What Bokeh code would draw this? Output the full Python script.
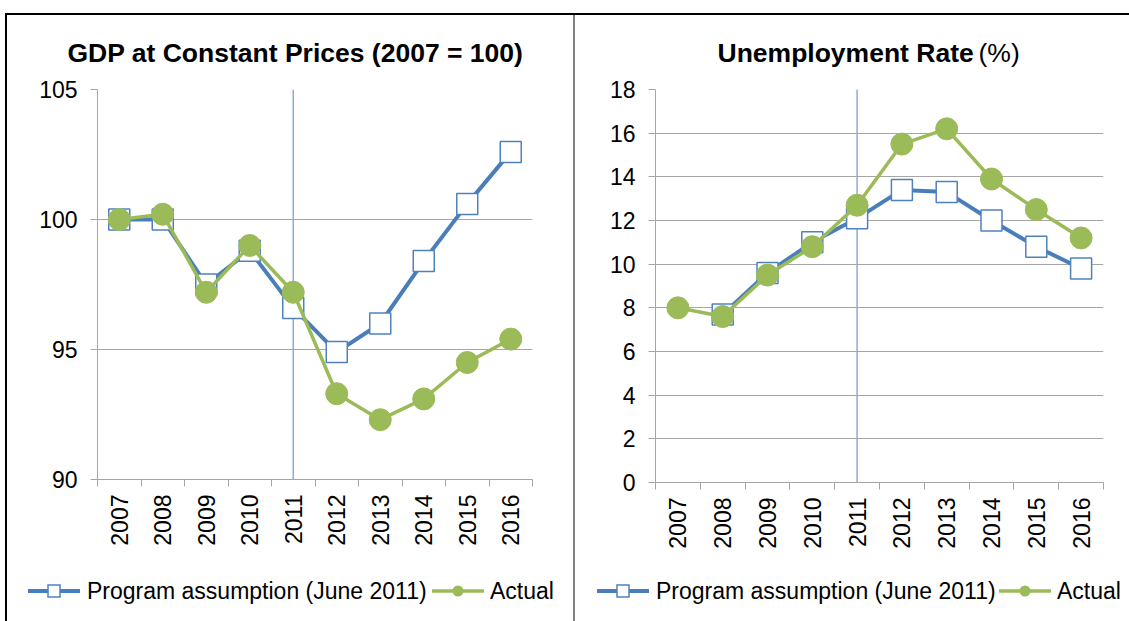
import math
from bokeh.plotting import figure
from bokeh.models import Range1d, FixedTicker, Span, Title, Div
from bokeh.layouts import row, column
from bokeh.embed import file_html
from bokeh.resources import INLINE

years = ["2007", "2008", "2009", "2010", "2011", "2012", "2013", "2014", "2015", "2016"]
gdp_program = [100.0, 100.0, 97.5, 98.8, 96.6, 94.9, 96.0, 98.4, 100.6, 102.6]
gdp_actual = [100.0, 100.2, 97.2, 99.0, 97.2, 93.3, 92.3, 93.1, 94.5, 95.4]
unemp_program = [float("nan"), 7.7, 9.6, 11.0, 12.1, 13.4, 13.3, 12.0, 10.8, 9.8]
unemp_actual = [8.0, 7.6, 9.5, 10.8, 12.7, 15.5, 16.2, 13.9, 12.5, 11.2]
gdp_ticks = [90, 95, 100, 105]
unemp_ticks = [0, 2, 4, 6, 8, 10, 12, 14, 16, 18]
marker_year = "2011"
legend_program = "Program assumption (June 2011)"
legend_actual = "Actual"
gdp_title = "GDP at Constant Prices (2007 = 100)"
unemp_title = "Unemployment Rate"
unemp_unit = "(%)"

FONT = "Liberation Sans"
BLUE = "#4A7EBB"
BLUE_M = "#4F81BD"
GREEN = "#9BBB59"
GRID = "#A6A6A6"
TITLE_SIZE = "26.5px"
TEXT_SIZE = "23px"

CHART_H = 560
LEG_H = 61


def panel(width, ylo, yhi, ticks, program, actual, borders, styles):
    n = len(years)
    xs = list(range(1, n + 1))
    p = figure(width=width, height=CHART_H, x_range=Range1d(0.5, n + 0.5),
               y_range=Range1d(ylo, yhi), output_backend="svg", toolbar_location=None,
               min_border_left=borders[0], min_border_right=borders[1],
               min_border_top=borders[2], min_border_bottom=borders[3],
               styles=styles)
    p.outline_line_color = None
    p.border_fill_color = None
    p.xgrid.grid_line_color = None
    p.ygrid.grid_line_color = GRID
    p.ygrid.grid_line_width = 1
    p.ygrid.ticker = FixedTicker(ticks=ticks)

    p.yaxis.ticker = FixedTicker(ticks=ticks)
    p.yaxis.axis_line_color = GRID
    p.yaxis.major_tick_line_color = GRID
    p.yaxis.major_tick_out = 7
    p.yaxis.major_tick_in = 0
    p.yaxis.minor_tick_line_color = None
    p.yaxis.major_label_standoff = 13
    p.yaxis.major_label_text_font = FONT
    p.yaxis.major_label_text_font_size = TEXT_SIZE
    p.yaxis.major_label_text_color = "#000000"

    p.xaxis.ticker = FixedTicker(ticks=xs, minor_ticks=[x - 0.5 for x in xs] + [n + 0.5])
    p.xaxis.major_label_overrides = {x: y for x, y in zip(xs, years)}
    p.xaxis.axis_line_color = GRID
    p.xaxis.major_tick_line_color = None
    p.xaxis.major_tick_out = 0
    p.xaxis.major_tick_in = 0
    p.xaxis.minor_tick_line_color = GRID
    p.xaxis.minor_tick_out = 7
    p.xaxis.minor_tick_in = 0
    p.xaxis.major_label_orientation = math.pi / 2
    p.xaxis.major_label_standoff = 8
    p.xaxis.major_label_text_font = FONT
    p.xaxis.major_label_text_font_size = TEXT_SIZE
    p.xaxis.major_label_text_color = "#000000"

    span = Span(location=years.index(marker_year) + 1, dimension="height",
                line_color="#8EA9DB", line_width=1.5, level="underlay")
    p.add_layout(span)

    p.line(xs, program, line_color=BLUE, line_width=4)
    p.scatter(xs, program, marker="square", size=21, fill_color="white",
              line_color=BLUE_M, line_width=1.5)
    p.line(xs, actual, line_color=GREEN, line_width=3.5)
    p.scatter(xs, actual, marker="circle", size=22, fill_color=GREEN,
              line_color=GREEN)
    return p


def legend_div(width, x_prog, x_act, styles):
    cy = 31
    gw = 52
    svg = (
        f'<svg xmlns="http://www.w3.org/2000/svg" width="{width}" height="{LEG_H}" '
        f'style="display:block">'
        f'<line x1="{x_prog}" y1="{cy}" x2="{x_prog + gw}" y2="{cy}" '
        f'stroke="{BLUE}" stroke-width="4"/>'
        f'<rect x="{x_prog + gw / 2 - 6}" y="{cy - 6}" width="12" height="12" '
        f'fill="white" stroke="{BLUE_M}" stroke-width="1.5"/>'
        f'<text x="{x_prog + gw + 7}" y="{cy + 8}" font-family="{FONT}" '
        f'font-size="{TEXT_SIZE}" fill="#000">{legend_program}</text>'
        f'<line x1="{x_act}" y1="{cy}" x2="{x_act + gw}" y2="{cy}" '
        f'stroke="{GREEN}" stroke-width="3.5"/>'
        f'<circle cx="{x_act + gw / 2}" cy="{cy}" r="5.5" fill="{GREEN}"/>'
        f'<text x="{x_act + gw + 6}" y="{cy + 8}" font-family="{FONT}" '
        f'font-size="{TEXT_SIZE}" fill="#000">{legend_actual}</text>'
        f'</svg>'
    )
    return Div(text=svg, width=width, height=LEG_H, styles=styles)


top_l = ("linear-gradient(#000,#000) 5px 13px / 100% 2px no-repeat, "
         "linear-gradient(#000,#000) 5px 13px / 2px 100% no-repeat")
top_r = ("linear-gradient(#000,#000) 0 13px / 100% 2px no-repeat, "
         "linear-gradient(#808080,#808080) 0 13px / 2px 100% no-repeat")
side_l = "linear-gradient(#000,#000) 5px 0 / 2px 100% no-repeat"
side_r = "linear-gradient(#808080,#808080) 0 0 / 2px 100% no-repeat"

left = panel(573, 90, 105, gdp_ticks, gdp_program, gdp_actual,
             (97, 41, 89, CHART_H - 479), {"background": top_l})
left.add_layout(Title(text=gdp_title, align="left", offset=-30, standoff=44,
                      text_font=FONT, text_font_style="bold", text_font_size=TITLE_SIZE,
                      text_color="#000000"),
                "above")

right = panel(556, 0, 18, unemp_ticks, unemp_program, unemp_actual,
              (82, 26, 89, CHART_H - 482), {"background": top_r})
right.add_layout(Title(text=unemp_title, align="left", offset=62, standoff=44,
                       text_font=FONT, text_font_style="bold", text_font_size=TITLE_SIZE,
                       text_color="#000000"),
                 "above")
right.add_layout(Title(text=unemp_unit, align="left", offset=323, standoff=-108,
                       text_font=FONT, text_font_style="normal", text_font_size=TITLE_SIZE,
                       text_color="#000000"),
                 "above")

left_leg = legend_div(573, 28, 432, {"background": side_l, "margin": "0", "padding": "0"})
right_leg = legend_div(556, 24, 426, {"background": side_r, "margin": "0", "padding": "0"})

layout = row(column(left, left_leg, spacing=0), column(right, right_leg, spacing=0), spacing=0)

open("out.html", "w").write(file_html(layout, INLINE))
